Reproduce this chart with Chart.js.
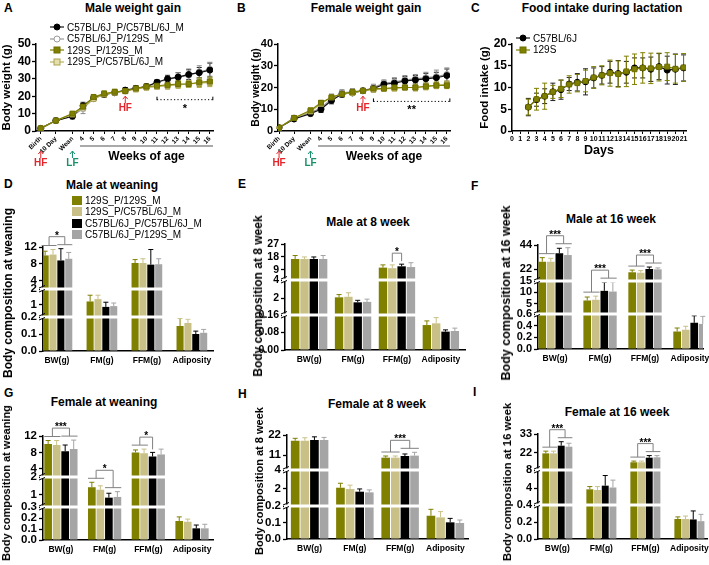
<!DOCTYPE html>
<html>
<head>
<meta charset="utf-8">
<script src="https://cdn.jsdelivr.net/npm/chart.js@4/dist/chart.umd.min.js"></script>
<style>
  body { margin: 0; background: #fff; }
  #fig { position: relative; width: 709px; height: 565px; overflow: hidden; background: #fff;
         font-family: "Liberation Sans", Arial, sans-serif; color: #000; }
  .t { position: absolute; font-weight: bold; white-space: nowrap; transform: translate(-50%, -50%); }
  .vt { position: absolute; font-weight: bold; white-space: nowrap;
        transform: translate(-50%, -50%) rotate(-90deg); }
  .letter { position: absolute; font-weight: bold; font-size: 12px; }
  .lg { position: absolute; font-size: 10px; white-space: nowrap; }
  .lg div { height: 11.4px; line-height: 11px; }
  .lg svg { vertical-align: middle; margin-right: 3px; position: relative; top: -1px; }
</style>
</head>
<body>
<div id="fig">
  <div class="letter" style="left:4px;top:1px">A</div>
  <div class="letter" style="left:237px;top:1px">B</div>
  <div class="letter" style="left:471px;top:1px">C</div>
  <div class="letter" style="left:4px;top:177px">D</div>
  <div class="letter" style="left:238px;top:177px">E</div>
  <div class="letter" style="left:471px;top:179px">F</div>
  <div class="letter" style="left:4px;top:386px">G</div>
  <div class="letter" style="left:238px;top:387px">H</div>
  <div class="letter" style="left:473px;top:385px">I</div>

  <div class="t" style="left:133px;top:8px;font-size:12px">Male weight gain</div>
  <div class="t" style="left:366px;top:8px;font-size:12px">Female weight gain</div>
  <div class="t" style="left:602px;top:8px;font-size:12px">Food intake during lactation</div>
  <div class="t" style="left:112px;top:185px;font-size:12px">Male at weaning</div>
  <div class="t" style="left:368px;top:222px;font-size:12px">Male at 8 week</div>
  <div class="t" style="left:611px;top:219px;font-size:12px">Male at 16 week</div>
  <div class="t" style="left:104px;top:402px;font-size:12px">Female at weaning</div>
  <div class="t" style="left:377px;top:404px;font-size:12px">Female at 8 week</div>
  <div class="t" style="left:617px;top:412px;font-size:12px">Female at 16 week</div>
</div>
<script>
// ---------- A / B: weight gain ----------
const ageLabels = ['Birth', '10 Day', 'Wean', '4', '5', '6', '7', '8', '9', '10', '11', '12', '13', '14', '15', '16'];
const ageWeeks = [0, 1.43, 3, 4, 5, 6, 7, 8, 9, 10, 11, 12, 13, 14, 15, 16];
const weightSeries = ['C57BL/6J_P/C57BL/6J_M', 'C57BL/6J_P/129S_M', '129S_P/129S_M', '129S_P/C57BL/6J_M'];

const maleWeight = [
  [1.5, 6, 8.5, 14.5, 19, 21, 22, 23.5, 24.5, 25.5, 28, 30, 31, 32.5, 33.5, 35],
  [1.5, 6, 8.5, 13, 18.5, 21, 22, 23, 24.5, 25.5, 28, 29.5, 31, 32, 34, 35.5],
  [1.5, 6, 10, 14, 19.5, 21.5, 22.5, 23, 24.5, 25.5, 26, 26.5, 27, 27, 28, 28.5],
  [1.5, 6, 9.5, 13.5, 18.5, 21, 22, 23, 24, 25, 25.5, 26, 26.5, 27, 27.5, 28]
];
const maleWeightSd = [
  [0.3, 0.8, 1.5, 2, 1.5, 1.5, 1.5, 1.5, 1.5, 1.5, 1.5, 2, 2.5, 3, 3, 4],
  [0.3, 0.8, 1.5, 3, 1.5, 1.5, 1.5, 1.5, 1.5, 1.5, 1.5, 2, 2.5, 3, 3.5, 4],
  [0.3, 0.8, 1, 1.5, 1.5, 1.5, 1.5, 1.5, 1.5, 1.5, 1.5, 2, 2, 2, 2.5, 2.5],
  [0.3, 0.8, 1, 2, 1.5, 1.5, 1.5, 1.5, 1.5, 1.5, 1.5, 2, 2, 2, 2.5, 2.5]
];
const femaleWeight = [
  [1.5, 5.5, 8, 10, 14, 17, 17.5, 18.5, 19.5, 21.5, 22, 23, 23.5, 24, 24.5, 25.5],
  [1.5, 6, 8.5, 10.5, 15, 17.5, 18, 18.5, 20, 22, 22.5, 23.5, 24, 24.5, 25, 26],
  [1.5, 6, 9.5, 13, 15.5, 17, 18, 18.5, 19.5, 19.5, 20, 20, 20, 20.5, 21, 21],
  [1.5, 6, 9, 12.5, 15.5, 17, 17.5, 18.5, 19, 19.5, 19.5, 20, 20, 20.5, 21, 21.5]
];
const femaleWeightSd = [
  [0.3, 0.8, 1, 1.5, 1.5, 1.5, 1, 1, 1.5, 1.5, 2, 2, 2, 2.5, 2.5, 3],
  [0.3, 0.8, 1, 1.5, 2, 1.5, 1.5, 1, 1.5, 1.5, 2, 2, 2, 2.5, 3, 3],
  [0.3, 0.8, 1, 1, 1, 1, 1, 1, 1, 1, 1, 1, 1.5, 1.5, 1.5, 1.5],
  [0.3, 0.8, 1, 1, 1, 1, 1, 1, 1, 1, 1, 1, 1.5, 1.5, 1.5, 1.5]
];

// ---------- C: food intake ----------
const lactationDays = [2, 3, 4, 5, 6, 7, 8, 9, 10, 11, 12, 13, 14, 15, 16, 17, 18, 19, 20, 21];
const lactationSeries = ['C57BL/6J', '129S'];
const foodIntake = [
  [5.5, 7.2, 8, 9, 9.5, 10.8, 11.2, 11.3, 12.2, 12.8, 13.5, 13.2, 13.5, 14.5, 14.5, 14.2, 14.8, 14, 14.2, 14.5],
  [5.5, 7.3, 8, 9, 9.7, 10.7, 11, 11.5, 12.3, 12.8, 13.3, 13.1, 13.7, 14.2, 14.5, 14.4, 14.7, 14.8, 14.3, 14.6]
];
const foodIntakeSd = [
  [2, 1.5, 1.7, 2, 2.2, 1.5, 2, 3, 2.3, 2, 2.5, 3, 2.5, 2.3, 2.3, 2.8, 3, 3.2, 3.5, 3],
  [1.8, 2.5, 3, 1.5, 2, 2, 2, 2.5, 2.5, 2.2, 3, 3, 3.5, 3.5, 3.5, 3.5, 3.2, 3.2, 3.3, 3.2]
];

// ---------- D-I: body composition ----------
const compCategories = ['BW(g)', 'FM(g)', 'FFM(g)', 'Adiposity'];
const compSeries = ['129S_P/129S_M', '129S_P/C57BL/6J_M', 'C57BL/6J_P/C57BL/6J_M', 'C57BL/6J_P/129S_M'];

const maleWeaning = [[10, 1.2, 8.2, 0.147], [10.2, 1.35, 8.2, 0.165], [8.8, 0.85, 7.8, 0.1], [9.2, 0.9, 7.9, 0.107]];
const maleWeaningSd = [[1, 0.4, 0.8, 0.045], [1.2, 0.25, 1, 0.022], [2.8, 0.3, 3.6, 0.017], [1.5, 0.2, 1.3, 0.02]];
const maleWeaningTicks = ['0.0', '0.1', '0.2', '1', '2', '4', '8', '12'];

const male8wk = [[16.6, 2.1, 10.6, 0.114], [16.6, 2.16, 10.2, 0.122], [16.6, 1.55, 11.5, 0.084], [16.6, 1.6, 11, 0.087]];
const male8wkSd = [[2.4, 0.3, 1.9, 0.019], [1.4, 0.44, 2.3, 0.026], [1.4, 0.22, 1.5, 0.008], [2.4, 0.3, 3, 0.013]];
const male8wkTicks = ['0.00', '0.08', '0.16', '2', '4', '9', '18', '27'];

const male16wk = [[28.7, 6.5, 19, 0.3], [28.7, 6.8, 18.6, 0.33], [36.4, 10.7, 22, 0.45], [34.8, 10.4, 21.7, 0.43]];
const male16wkSd = [[3.7, 1.5, 2, 0.06], [3.1, 1.6, 1.9, 0.06], [4.6, 3.8, 1.8, 0.12], [6.7, 4.1, 1.3, 0.13]];
const male16wkTicks = ['0.0', '0.2', '0.4', '0.6', '5', '10', '15', '22', '44'];

const femaleWeaning = [[10.05, 1.42, 8, 0.173], [9.8, 1.28, 7.8, 0.166], [8.3, 0.83, 7, 0.106], [8.8, 0.87, 7.5, 0.106]];
const femaleWeaningSd = [[0.85, 0.28, 0.6, 0.037], [1.1, 0.22, 1, 0.024], [1.5, 0.25, 1, 0.03], [2.2, 0.3, 1.3, 0.037]];
const femaleWeaningTicks = ['0.0', '0.1', '0.2', '0.3', '1', '2', '4', '8', '12'];

const female8wk = [[18.9, 2.13, 9.7, 0.141], [18.9, 1.99, 9.7, 0.131], [19.3, 1.71, 10.6, 0.101], [19.3, 1.64, 10.8, 0.097]];
const female8wkSd = [[1.3, 0.47, 0.9, 0.039], [1.6, 0.41, 0.9, 0.035], [1.7, 0.29, 1.1, 0.024], [1.4, 0.26, 1.8, 0.018]];
const female8wkTicks = ['0.0', '0.1', '0.2', '2', '4', '11', '22'];

const female16wk = [[21.7, 3.8, 16.5, 0.235], [21.7, 3.66, 16.5, 0.235], [26.2, 4.6, 19.2, 0.23], [25.6, 4.2, 19.4, 0.21]];
const female16wkSd = [[1.3, 0.6, 0.7, 0.025], [1.3, 0.74, 0.7, 0.035], [2.3, 2.2, 1.2, 0.1], [2, 1.6, 1, 0.08]];
const female16wkTicks = ['0.0', '0.2', '0.4', '4', '8', '22', '33'];

const barColors = ['#7f7f00', '#c9c087', '#000000', '#a5a5a5'];
const FONT = '"Liberation Sans", Arial, sans-serif';

Chart.defaults.font.family = FONT;
Chart.defaults.color = '#000';
Chart.defaults.animation = false;
Chart.defaults.plugins.legend.display = false;
Chart.defaults.plugins.tooltip.enabled = false;

const fig = document.getElementById('fig');

function place(pos) {
  const c = document.createElement('canvas');
  c.width = pos.w; c.height = pos.h;
  c.style.cssText = 'position:absolute;left:' + pos.left + 'px;top:' + pos.top + 'px;width:' + pos.w + 'px;height:' + pos.h + 'px';
  fig.appendChild(c);
  return c;
}

function vTitle(text, cx, cy, size) {
  const d = document.createElement('div');
  d.className = 'vt';
  d.style.left = cx + 'px';
  d.style.top = cy + 'px';
  d.style.fontSize = size + 'px';
  d.textContent = text;
  fig.appendChild(d);
}

// piecewise y mapping for the broken axes, segments bottom to top: [lo, hi, height]
function makeBreak(segs) {
  const total = segs.reduce((s, g) => s + g[2], 0);
  const tf = v => {
    let base = 0;
    for (let i = 0; i < segs.length; i++) {
      const [lo, hi, h] = segs[i];
      if (v <= hi || i === segs.length - 1) return (base + Math.max(0, v - lo) / (hi - lo) * h) / total;
      base += h;
    }
  };
  const cuts = [];
  let acc = 0;
  segs.slice(0, -1).forEach(g => { acc += g[2]; cuts.push(acc / total); });
  return { tf, cuts };
}

const errorBars = {
  id: 'errorBars',
  beforeDatasetsDraw(chart) {
    const f = chart.canvas.fig, ctx = chart.ctx, y = chart.scales.y;
    const tf = f.tf || (v => v);
    chart.data.datasets.forEach((ds, i) => {
      ctx.save();
      ctx.strokeStyle = ds.errColor;
      ctx.lineWidth = 1;
      chart.getDatasetMeta(i).data.forEach((el, j) => {
        const m = ds.mean[j], e = ds.sd[j];
        const hi = y.getPixelForValue(tf(m + e));
        const lo = f.oneSided ? el.y : y.getPixelForValue(tf(m - e));
        ctx.beginPath();
        ctx.moveTo(el.x, lo); ctx.lineTo(el.x, hi);
        ctx.moveTo(el.x - f.cap, hi); ctx.lineTo(el.x + f.cap, hi);
        if (!f.oneSided) { ctx.moveTo(el.x - f.cap, lo); ctx.lineTo(el.x + f.cap, lo); }
        ctx.stroke();
      });
      ctx.restore();
    });
  }
};

const axisBreaks = {
  id: 'axisBreaks',
  afterDraw(chart) {
    const f = chart.canvas.fig;
    if (!f.cuts) return;
    const { ctx, chartArea: a, scales: { y } } = chart;
    ctx.save();
    f.cuts.forEach(c => {
      const py = y.getPixelForValue(c);
      ctx.fillStyle = '#fff';
      ctx.fillRect(a.left - 3, py - 1.5, a.right - a.left + 3, 3);
      ctx.strokeStyle = '#000';
      ctx.lineWidth = 1;
      ctx.beginPath();
      ctx.moveTo(a.left - 4, py - 1); ctx.lineTo(a.left + 2, py - 3.5);
      ctx.moveTo(a.left - 4, py + 3); ctx.lineTo(a.left + 2, py + 0.5);
      ctx.stroke();
    });
    ctx.restore();
  }
};

const sigMarks = {
  id: 'sigMarks',
  afterDraw(chart) {
    const f = chart.canvas.fig;
    if (!f.sig) return;
    const { ctx, scales: { y } } = chart;
    const side = (idx, cat) => {
      const els = idx.map(i => chart.getDatasetMeta(i).data[cat]);
      const tops = idx.map(i => {
        const ds = chart.data.datasets[i];
        return y.getPixelForValue(f.tf(ds.mean[cat] + ds.sd[cat]));
      });
      const x0 = Math.min(...els.map(e => e.x - e.width / 2));
      const x1 = Math.max(...els.map(e => e.x + e.width / 2));
      const top = Math.min(...tops);
      return { x0, x1, xm: (x0 + x1) / 2, n: idx.length, hy: idx.length > 1 ? top - 4 : top - 3 };
    };
    ctx.save();
    ctx.strokeStyle = '#808080';
    ctx.lineWidth = 1;
    f.sig.forEach(s => {
      const L = side(s.left, s.cat), R = side(s.right, s.cat);
      const by = Math.min(L.hy, R.hy) - 8;
      ctx.beginPath();
      [L, R].forEach(g => {
        if (g.n > 1) { ctx.moveTo(g.x0, g.hy); ctx.lineTo(g.x1, g.hy); }
        ctx.moveTo(g.xm, g.hy); ctx.lineTo(g.xm, by);
      });
      ctx.moveTo(L.xm, by); ctx.lineTo(R.xm, by);
      ctx.stroke();
      ctx.fillStyle = '#000';
      ctx.font = 'bold 10px ' + FONT;
      ctx.textAlign = 'center';
      ctx.textBaseline = 'alphabetic';
      ctx.fillText(s.text, (L.xm + R.xm) / 2, by + 2);
    });
    ctx.restore();
  }
};

const notes = {
  id: 'notes',
  afterDraw(chart) {
    const n = chart.canvas.fig.notes;
    if (!n) return;
    const { ctx, chartArea: a, scales: { x, y } } = chart;
    ctx.save();
    const arrow = (px, py, col, text) => {
      ctx.strokeStyle = col; ctx.fillStyle = col; ctx.lineWidth = 1;
      ctx.beginPath();
      ctx.moveTo(px, py); ctx.lineTo(px, py + 7);
      ctx.moveTo(px - 2.5, py + 3); ctx.lineTo(px, py); ctx.lineTo(px + 2.5, py + 3);
      ctx.stroke();
      ctx.font = 'bold 10px ' + FONT;
      ctx.textAlign = 'center'; ctx.textBaseline = 'middle';
      ctx.fillText(text, px, py + 12);
    };
    if (n.hf) arrow(x.getPixelForValue(n.hf.x), y.getPixelForValue(n.hf.y), '#e3262b', 'HF');
    (n.below || []).forEach(b => arrow(x.getPixelForValue(b[0]), a.bottom + 20, b[2], b[1]));
    if (n.dotted) {
      const d = n.dotted;
      const x0 = x.getPixelForValue(d.from), x1 = x.getPixelForValue(d.to) + 3, py = y.getPixelForValue(d.y);
      ctx.strokeStyle = '#000'; ctx.lineWidth = 1;
      ctx.setLineDash([1.2, 2.2]);
      ctx.beginPath(); ctx.moveTo(x0, py); ctx.lineTo(x1, py); ctx.stroke();
      ctx.setLineDash([]);
      ctx.beginPath();
      ctx.moveTo(x0, py - 3); ctx.lineTo(x0, py + 0.5);
      ctx.moveTo(x1, py - 3); ctx.lineTo(x1, py + 0.5);
      ctx.stroke();
      ctx.fillStyle = '#000';
      ctx.font = 'bold 11px ' + FONT;
      ctx.textAlign = 'center'; ctx.textBaseline = 'middle';
      ctx.fillText(d.text, (x0 + x1) / 2, py + 9);
    }
    if (n.weeks) {
      const x0 = x.getPixelForValue(n.weeks.from) - 3, ly = a.bottom + 15;
      ctx.strokeStyle = '#8c8c8c'; ctx.lineWidth = 1.5;
      ctx.beginPath(); ctx.moveTo(x0, ly); ctx.lineTo(a.right, ly); ctx.stroke();
      ctx.fillStyle = '#000';
      ctx.font = 'bold 12px ' + FONT;
      ctx.textAlign = 'center'; ctx.textBaseline = 'middle';
      ctx.fillText(n.weeks.text, (x0 + a.right) / 2, a.bottom + 26);
    }
    ctx.restore();
  }
};

function axisY(pos, extra) {
  return Object.assign({
    grid: { drawOnChartArea: false, tickLength: 4, tickColor: '#000', tickWidth: 1.3 },
    border: { color: '#000', width: 1.5 },
    afterFit: s => { s.width = pos.yw; s.paddingTop = 0; s.paddingBottom = 0; }
  }, extra);
}

// ---------- line charts ----------
const weightStyles = [
  { line: '#111', shape: 'circle', r: 3, fill: '#000', edge: '#000', err: '#222', order: 2 },
  { line: '#9a9a9a', shape: 'circle', r: 3, fill: '#fff', edge: '#9a9a9a', err: '#8a8a8a', order: 3 },
  { line: '#7f7f00', shape: 'rect', r: 3.5, fill: '#7f7f00', edge: '#6f6f00', err: '#7f7f00', order: 0 },
  { line: '#b9b25e', shape: 'rect', r: 3.5, fill: '#e4dfac', edge: '#aaa250', err: '#b0a850', order: 1 }
];

function curveChart(pos, opt) {
  const canvas = place(pos);
  canvas.fig = { cap: 2.5, oneSided: false, notes: opt.notes };
  const datasets = opt.mean.map((vals, s) => {
    const st = opt.styles[s];
    return {
      label: opt.names[s],
      data: opt.x.map((xv, i) => ({ x: xv, y: vals[i] })),
      mean: vals, sd: opt.sd[s],
      borderColor: st.line, borderWidth: 1.2,
      pointStyle: st.shape, pointRadius: st.r, pointBackgroundColor: st.fill,
      pointBorderColor: st.edge, pointBorderWidth: 1,
      errColor: st.err, order: st.order
    };
  });
  const xTicks = {
    font: { size: opt.xFont, weight: 'bold' }, autoSkip: false,
    minRotation: opt.rot, maxRotation: opt.rot, padding: 1
  };
  if (opt.xLabels) xTicks.callback = (v, i) => opt.xLabels[i];
  new Chart(canvas, {
    type: 'line',
    data: { datasets },
    options: {
      responsive: false, devicePixelRatio: 1,
      layout: { padding: { top: pos.padTop, right: pos.padRight, left: 0, bottom: 0 } },
      scales: {
        x: {
          type: 'linear', min: opt.xMin, max: opt.xMax,
          grid: { drawOnChartArea: false, tickLength: 3, tickColor: '#000', tickWidth: 1 },
          border: { color: '#000', width: 1.5 },
          afterBuildTicks: s => { s.ticks = opt.tickAt.map(v => ({ value: v })); },
          afterFit: s => { s.height = pos.xh; s.paddingLeft = 0; s.paddingRight = 0; },
          ticks: xTicks,
          title: opt.xTitle ? { display: true, text: opt.xTitle, font: { size: 12.5, weight: 'bold' }, padding: 0 } : { display: false }
        },
        y: axisY(pos, {
          min: 0, max: opt.yMax,
          ticks: { stepSize: opt.yStep, font: { size: opt.yFont, weight: 'bold' }, padding: 1 },
          title: { display: true, text: opt.yTitle, font: { size: opt.yFont - 0.5, weight: 'bold' }, padding: 0 }
        })
      }
    },
    plugins: [errorBars, notes]
  });
}

curveChart({ left: 0, top: 34, w: 230, h: 140, yw: 36, padTop: 10, padRight: 17, xh: 43 }, {
  x: ageWeeks, tickAt: ageWeeks, xLabels: ageLabels, xMin: -0.45, xMax: 16.3, rot: 45, xFont: 6.5,
  mean: maleWeight, sd: maleWeightSd, names: weightSeries, styles: weightStyles,
  yMax: 50, yStep: 10, yFont: 12, yTitle: 'Body weight (g)',
  notes: {
    hf: { x: 8, y: 20 }, dotted: { from: 11, to: 16, y: 18, text: '*' },
    below: [[0, 'HF', '#e3262b'], [3, 'LF', '#17906b']], weeks: { from: 4, text: 'Weeks of age' }
  }
});

curveChart({ left: 250, top: 34, w: 215, h: 140, yw: 28, padTop: 10, padRight: 15, xh: 43 }, {
  x: ageWeeks, tickAt: ageWeeks, xLabels: ageLabels, xMin: -0.1, xMax: 16.3, rot: 45, xFont: 6.5,
  mean: femaleWeight, sd: femaleWeightSd, names: weightSeries, styles: weightStyles,
  yMax: 40, yStep: 10, yFont: 11, yTitle: 'Body weight (g)',
  notes: {
    hf: { x: 8, y: 16 }, dotted: { from: 9, to: 16, y: 13.6, text: '**' },
    below: [[0, 'HF', '#e3262b'], [3, 'LF', '#17906b']], weeks: { from: 4, text: 'Weeks of age' }
  }
});

const dayTicks = [];
for (let d = 0; d <= 21; d++) dayTicks.push(d);
curveChart({ left: 478, top: 34, w: 231, h: 124, yw: 34, padTop: 10, padRight: 23, xh: 27 }, {
  x: lactationDays, tickAt: dayTicks, xMin: 0, xMax: 21.3, rot: 0, xFont: 7,
  mean: foodIntake, sd: foodIntakeSd, names: lactationSeries,
  styles: [weightStyles[0], Object.assign({}, weightStyles[2], { order: 0 })],
  yMax: 20, yStep: 5, yFont: 12, yTitle: 'Food intake (g)', xTitle: 'Days'
});

// ---------- bar charts ----------
function compChart(pos, opt) {
  const canvas = place(pos);
  const br = makeBreak(opt.segs);
  canvas.fig = { cap: 2.5, oneSided: true, tf: br.tf, cuts: br.cuts, sig: opt.sig };
  const tickVals = opt.ticks.map(Number);
  const datasets = compSeries.map((name, s) => ({
    label: name,
    data: opt.mean[s].map(br.tf),
    mean: opt.mean[s], sd: opt.sd[s],
    backgroundColor: barColors[s], errColor: barColors[s],
    categoryPercentage: opt.catPct, barPercentage: 0.9
  }));
  new Chart(canvas, {
    type: 'bar',
    data: { labels: compCategories.map((c, i) => i), datasets },
    options: {
      responsive: false, devicePixelRatio: 1,
      layout: { padding: { top: pos.padTop, right: pos.padRight, left: 0, bottom: 0 } },
      scales: {
        x: {
          type: 'linear', min: opt.xMin, max: opt.xMax, offset: false,
          grid: { display: false, drawTicks: false },
          border: { color: '#000', width: 1.5 },
          afterBuildTicks: s => { s.ticks = compCategories.map((c, i) => ({ value: i })); },
          afterFit: s => { s.height = pos.xh; s.paddingLeft = 0; s.paddingRight = 0; },
          ticks: { callback: (v, i) => compCategories[i], font: { size: 8.5, weight: 'bold' }, padding: 5, autoSkip: false, maxRotation: 0 }
        },
        y: axisY(pos, {
          min: 0, max: 1,
          afterBuildTicks: s => { s.ticks = tickVals.map(v => ({ value: br.tf(v) })); },
          ticks: { callback: (v, i) => opt.ticks[i], font: { size: pos.yFont, weight: 'bold' }, padding: 2, autoSkip: false }
        })
      }
    },
    plugins: [errorBars, axisBreaks, sigMarks]
  });
  vTitle(opt.yTitle, pos.tx, pos.ty, pos.ts);
}

compChart({ left: 0, top: 217, w: 215, h: 165, yw: 43, padTop: 30, padRight: 2, xh: 31, tx: 8, ty: 293, ts: 12, yFont: 11.5 }, {
  mean: maleWeaning, sd: maleWeaningSd, ticks: maleWeaningTicks,
  segs: [[0, 0.2, 34], [0.2, 2, 28], [2, 12, 42]], xMin: -0.31, xMax: 3.47, catPct: 0.7,
  yTitle: 'Body composition at weaning',
  sig: [{ cat: 0, left: [0, 1], right: [2, 3], text: '*' }]
});

compChart({ left: 252, top: 214, w: 217, h: 168, yw: 33, padTop: 30, padRight: 4, xh: 32, tx: 258, ty: 296, ts: 12, yFont: 10.5 }, {
  mean: male8wk, sd: male8wkSd, ticks: male8wkTicks,
  segs: [[0, 0.16, 35], [0.16, 4, 35], [2, 27, 36]], xMin: -0.55, xMax: 3.55, catPct: 0.85,
  yTitle: 'Body composition at 8 week',
  sig: [{ cat: 2, left: [1], right: [2], text: '*' }]
});

compChart({ left: 499, top: 215, w: 210, h: 167, yw: 39, padTop: 30, padRight: 6, xh: 33, tx: 506, ty: 293, ts: 12.5, yFont: 11 }, {
  mean: male16wk, sd: male16wkSd, ticks: male16wkTicks,
  segs: [[0, 0.6, 35], [0.6, 15, 33], [11, 44, 36]], xMin: -0.38, xMax: 3.29, catPct: 0.76,
  yTitle: 'Body composition at 16 week',
  sig: [
    { cat: 0, left: [0, 1], right: [2, 3], text: '***' },
    { cat: 1, left: [0, 1], right: [2, 3], text: '***' },
    { cat: 2, left: [0, 1], right: [2, 3], text: '***' }
  ]
});

compChart({ left: 0, top: 406, w: 215, h: 159, yw: 43, padTop: 30, padRight: 2, xh: 25, tx: 6, ty: 483, ts: 11, yFont: 11.5 }, {
  mean: femaleWeaning, sd: femaleWeaningSd, ticks: femaleWeaningTicks,
  segs: [[0, 0.3, 33], [0.3, 2, 30], [2, 12, 41]], xMin: -0.41, xMax: 3.48, catPct: 0.78,
  yTitle: 'Body composition at weaning',
  sig: [
    { cat: 0, left: [0, 1], right: [2, 3], text: '***' },
    { cat: 1, left: [0, 1], right: [2, 3], text: '*' },
    { cat: 2, left: [0, 1], right: [2], text: '*' }
  ]
});

compChart({ left: 252, top: 405, w: 219, h: 160, yw: 35, padTop: 30, padRight: 3, xh: 26, tx: 259, ty: 481, ts: 11, yFont: 11.5 }, {
  mean: female8wk, sd: female8wkSd, ticks: female8wkTicks,
  segs: [[0, 0.2, 33], [0.2, 4, 36], [3, 22, 35]], xMin: -0.5, xMax: 3.5, catPct: 0.85,
  yTitle: 'Body composition at 8 week',
  sig: [{ cat: 2, left: [0, 1], right: [2, 3], text: '***' }]
});

compChart({ left: 500, top: 404, w: 209, h: 161, yw: 38, padTop: 30, padRight: 2, xh: 26, tx: 507, ty: 482, ts: 11.3, yFont: 11 }, {
  mean: female16wk, sd: female16wkSd, ticks: female16wkTicks,
  segs: [[0, 0.4, 34], [0.4, 8, 35], [12, 33, 36]], xMin: -0.44, xMax: 3.4, catPct: 0.7,
  yTitle: 'Body composition at 16 week',
  sig: [
    { cat: 0, left: [0, 1], right: [2, 3], text: '***' },
    { cat: 2, left: [0, 1], right: [2, 3], text: '***' }
  ]
});

// ---------- legends ----------
function marker(st) {
  const shape = st.shape === 'rect'
    ? '<rect x="4" y="1" width="6" height="6" fill="' + st.fill + '" stroke="' + st.edge + '"/>'
    : '<circle cx="7" cy="4" r="3" fill="' + st.fill + '" stroke="' + st.edge + '"/>';
  return '<svg width="14" height="8"><line x1="0" y1="4" x2="14" y2="4" stroke="' + st.line + '" stroke-width="1.2"/>' + shape + '</svg>';
}
function legend(left, top, names, icons) {
  const box = document.createElement('div');
  box.className = 'lg';
  box.style.left = left + 'px';
  box.style.top = top + 'px';
  box.innerHTML = names.map((n, i) => '<div>' + icons[i] + n + '</div>').join('');
  fig.appendChild(box);
}
legend(50, 22, weightSeries, weightStyles.map(marker));
legend(516, 33, lactationSeries, [marker(weightStyles[0]), marker(weightStyles[2])]);
legend(72, 195, compSeries, barColors.map(c => '<svg width="10" height="9"><rect width="10" height="9" fill="' + c + '"/></svg>'));
</script>
</body>
</html>
